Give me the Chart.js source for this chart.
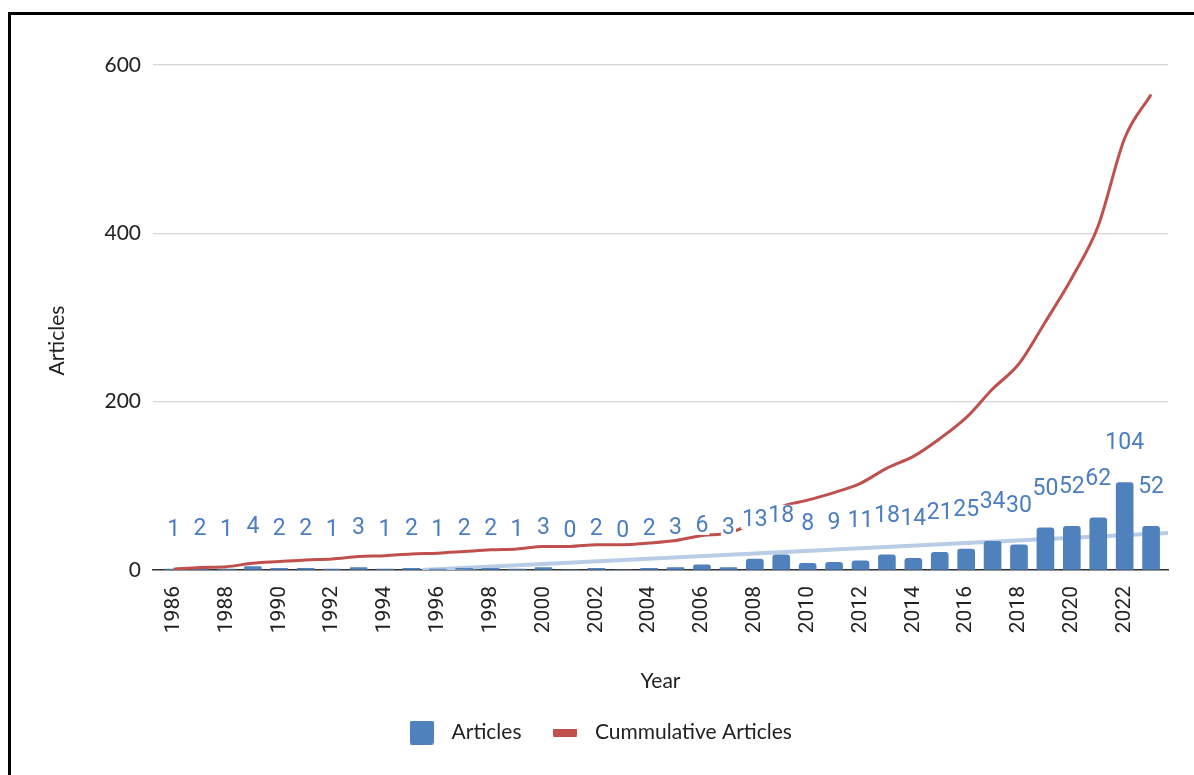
<!DOCTYPE html>
<html>
<head>
<meta charset="utf-8">
<script src="https://cdn.jsdelivr.net/npm/chart.js@4.4.1/dist/chart.umd.min.js"></script>
<style>
  html, body { margin: 0; padding: 0; background: #fff; overflow: hidden; }
  #wrap { position: relative; width: 1194px; height: 775px; }
  #frame {
    position: absolute; left: 8px; top: 12px; width: 1300px; height: 900px;
    border-left: 3px solid #000; border-top: 3px solid #000; pointer-events: none;
  }
</style>
</head>
<body>
<div id="wrap">
  <canvas id="chart"></canvas>
  <div id="frame"></div>
</div>
<script>
const years = [1986, 1987, 1988, 1989, 1990, 1991, 1992, 1993, 1994, 1995,
  1996, 1997, 1998, 1999, 2000, 2001, 2002, 2003, 2004, 2005,
  2006, 2007, 2008, 2009, 2010, 2011, 2012, 2013, 2014, 2015,
  2016, 2017, 2018, 2019, 2020, 2021, 2022, 2023]
const articles = [1, 2, 1, 4, 2, 2, 1, 3, 1, 2,
  1, 2, 2, 1, 3, 0, 2, 0, 2, 3,
  6, 3, 13, 18, 8, 9, 11, 18, 14, 21,
  25, 34, 30, 50, 52, 62, 104, 52]
const cumulative = [1, 3, 4, 8, 10, 12, 13, 16, 17, 19,
  20, 22, 24, 25, 28, 28, 30, 30, 32, 35,
  41, 44, 57, 75, 83, 92, 103, 121, 135, 156,
  181, 215, 245, 295, 347, 409, 513, 565]
// linear trend of yearly articles (start / end of the visible part)
const trendYears = [1995.4, 2023.64]
const trendValues = [0, 44]
const xTickYears = years.filter(y => y % 2 === 0)
const yTicks = [0, 200, 400, 600]

const BLUE = '#4f81bd'
const RED = '#c0504d'
const TEXT = '#222'

const pairs = (xs, ys) => xs.map((x, i) => ({ x: x, y: ys[i] }))

// small swatches used as legend markers
function swatch(w, h, color, r) {
  const c = document.createElement('canvas')
  c.width = w
  c.height = h
  const g = c.getContext('2d')
  g.fillStyle = color
  g.beginPath()
  g.roundRect(0, 0, w, h, r)
  g.fill()
  return c
}
const barMarker = swatch(24, 24, BLUE, 2)
const lineMarker = swatch(24, 8, RED, 1)

// value labels above the bars, with a white backing
const barLabels = {
  id: 'barLabels',
  afterDatasetsDraw(chart) {
    const meta = chart.getDatasetMeta(1)
    const ctx = chart.ctx
    ctx.save()
    ctx.font = '23px Roboto'
    ctx.textAlign = 'center'
    ctx.textBaseline = 'middle'
    meta.data.forEach((bar, i) => {
      const txt = String(articles[i])
      const y = bar.y - 40
      const w = ctx.measureText(txt).width
      ctx.fillStyle = '#fff'
      ctx.fillRect(bar.x - w / 2 - 1, y - 10, w + 2, 20)
      ctx.fillStyle = '#4a7ec0'
      ctx.fillText(txt, bar.x, y + 1)
    })
    ctx.restore()
  }
}

// rotated y axis title
const yTitle = {
  id: 'yTitle',
  afterDraw(chart) {
    const { ctx, chartArea } = chart
    ctx.save()
    ctx.translate(57, (chartArea.top + chartArea.bottom) / 2 + 23)
    ctx.rotate(-Math.PI / 2)
    ctx.font = '21px Lato'
    ctx.fillStyle = TEXT
    ctx.textAlign = 'center'
    ctx.textBaseline = 'middle'
    ctx.fillText('Articles', 0, 0)
    ctx.restore()
  }
}

new Chart(document.getElementById('chart'), {
  data: {
    datasets: [
      {
        type: 'line',
        label: 'Trend',
        data: pairs(trendYears, trendValues),
        borderColor: '#b8cce6',
        borderWidth: 4,
        pointRadius: 0,
        order: 3
      },
      {
        type: 'bar',
        label: 'Articles',
        data: pairs(years, articles),
        backgroundColor: BLUE,
        borderRadius: { topLeft: 3, topRight: 3 },
        borderSkipped: 'bottom',
        barThickness: 17,
        order: 2
      },
      {
        type: 'line',
        label: 'Cummulative Articles',
        data: pairs(years, cumulative),
        borderColor: RED,
        borderWidth: 3,
        pointRadius: 0,
        cubicInterpolationMode: 'monotone',
        order: 1
      }
    ]
  },
  options: {
    responsive: true,
    maintainAspectRatio: false,
    animation: false,
    layout: { padding: { top: 65, left: 26, right: 26, bottom: 22 } },
    plugins: {
      tooltip: { enabled: false },
      legend: {
        position: 'bottom',
        labels: {
          usePointStyle: true,
          pointStyleWidth: 39,
          padding: 24,
          color: TEXT,
          font: { family: 'Lato', size: 21 },
          generateLabels: () => [
            { text: 'Articles', pointStyle: barMarker, fontColor: TEXT, lineWidth: 0, datasetIndex: 1 },
            { text: 'Cummulative Articles', pointStyle: lineMarker, fontColor: TEXT, lineWidth: 0, datasetIndex: 2 }
          ]
        }
      }
    },
    scales: {
      x: {
        type: 'linear',
        offset: false,
        min: 1985.22,
        max: 2023.64,
        afterBuildTicks: (s) => { s.ticks = xTickYears.map(v => ({ value: v })) },
        grid: { display: false },
        border: { display: true, color: '#333', width: 1.5 },
        ticks: {
          autoSkip: false,
          maxRotation: 90,
          minRotation: 90,
          padding: 8,
          color: TEXT,
          font: { family: 'Roboto', size: 21 },
          callback: (v) => String(v)
        },
        title: {
          display: true,
          text: 'Year',
          color: TEXT,
          font: { family: 'Lato', size: 21 },
          padding: { top: 0, bottom: 4 }
        },
        afterFit: (s) => { s.height = 128 }
      },
      y: {
        min: 0,
        max: 600,
        afterBuildTicks: (s) => { s.ticks = yTicks.map(v => ({ value: v })) },
        grid: { color: '#d6d6d6', lineWidth: 1.3, drawTicks: false },
        border: { display: false },
        ticks: {
          padding: 12,
          color: TEXT,
          font: { family: 'Lato', size: 21 }
        },
        afterFit: (s) => { s.width = 127 }
      }
    }
  },
  plugins: [barLabels, yTitle]
})
</script>
</body>
</html>
